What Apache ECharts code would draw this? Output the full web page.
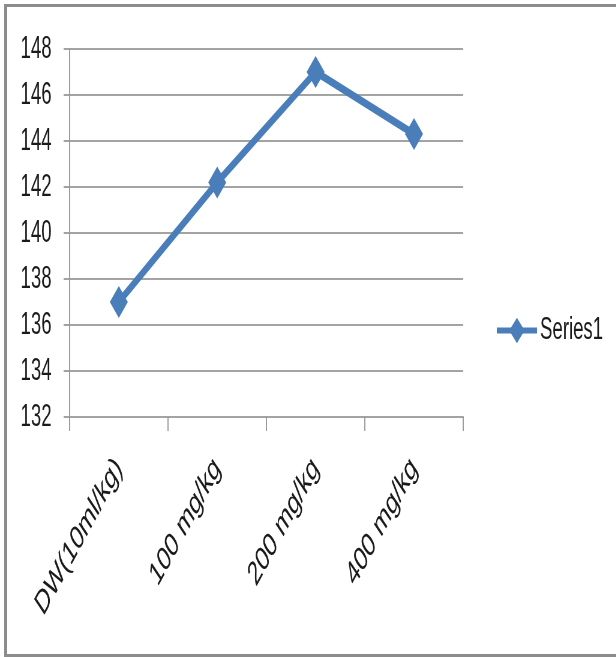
<!DOCTYPE html>
<html>
<head>
<meta charset="utf-8">
<script src="https://cdn.jsdelivr.net/npm/echarts@6/dist/echarts.min.js"></script>
<style>
  html, body { margin: 0; padding: 0; width: 616px; height: 657px; overflow: hidden; background: #fff; }
  /* chart is laid out wide, then compressed horizontally */
  #chart { position: absolute; left: 0; top: 0; width: 1027px; height: 657px;
           transform: scaleX(0.6); transform-origin: 0 0; }
  #frame { position: absolute; left: 4px; top: 4px; width: 640px; height: 647px;
           border: 3px solid #8c8c8c; pointer-events: none; }
</style>
</head>
<body>
<div id="chart"></div>
<div id="frame"></div>
<script>
// Dose groups and measured values
const categories = ['DW(10ml/kg)', '100 mg/kg', '200 mg/kg', '400 mg/kg'];
const series1 = [137.0, 142.2, 147.0, 144.3];
const seriesName = 'Series1';
// Value axis range
const yMin = 132;
const yMax = 148;
const yStep = 2;

const FONT = 'Liberation Sans';
const BLUE = '#4a7ebb';
const GRID = '#a3a3a3';

const chart = echarts.init(document.getElementById('chart'), null, { renderer: 'canvas' });

chart.setOption({
  animation: false,
  backgroundColor: 'transparent',
  textStyle: { fontFamily: FONT },
  grid: { left: 116, top: 49, width: 656, height: 368, containLabel: false },
  legend: {
    data: [seriesName],
    left: 825,
    top: 315,
    padding: 0,
    itemWidth: 67,
    itemHeight: 32,
    lineStyle: { width: 6, color: BLUE },
    textStyle: { fontFamily: FONT, fontSize: 31, color: '#1a1a1a' }
  },
  xAxis: {
    type: 'category',
    data: categories,
    boundaryGap: true,
    axisLine: { show: true, lineStyle: { color: GRID, width: 2 } },
    axisTick: { show: true, alignWithLabel: false, interval: 0, length: 14, lineStyle: { color: '#8c8c8c', width: 1.7 } },
    axisLabel: { interval: 0, rotate: 48, margin: 46, fontFamily: FONT, fontSize: 34, color: '#1a1a1a' },
    splitLine: { show: false }
  },
  yAxis: {
    type: 'value',
    min: yMin,
    max: yMax,
    interval: yStep,
    axisLine: { show: true, lineStyle: { color: '#8c8c8c', width: 1.7 } },
    axisTick: { show: true, length: 10, lineStyle: { color: GRID, width: 2 } },
    axisLabel: { margin: 30, fontFamily: FONT, fontSize: 31, color: '#1a1a1a' },
    splitLine: { show: true, lineStyle: { color: GRID, width: 2 } }
  },
  series: [{
    name: seriesName,
    type: 'line',
    data: series1,
    symbol: 'diamond',
    symbolSize: [30, 32],
    color: BLUE,
    itemStyle: { color: BLUE },
    lineStyle: { color: BLUE, width: 8 }
  }]
});
</script>
</body>
</html>
